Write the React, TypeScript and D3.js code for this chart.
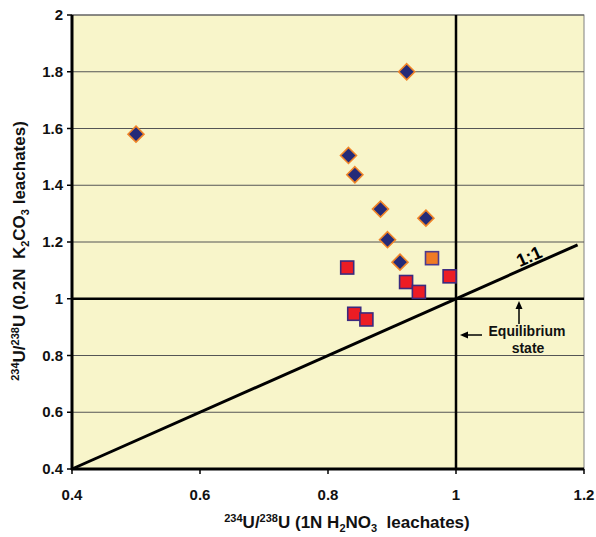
import React from "react";
import * as d3 from "d3";

const diamondX = [0.5, 0.923, 0.832, 0.842, 0.882, 0.953, 0.893, 0.9125];
const diamondY = [1.58, 1.8, 1.505, 1.437, 1.316, 1.284, 1.208, 1.129];
const squareX = [0.83, 0.99, 0.922, 0.942, 0.841, 0.86];
const squareY = [1.11, 1.079, 1.059, 1.024, 0.947, 0.927];
const orangeX = [0.9625];
const orangeY = [1.143];
const xTicks = [0.4, 0.6, 0.8, 1, 1.2];
const yTicks = [0.4, 0.6, 0.8, 1, 1.2, 1.4, 1.6, 1.8, 2];

const W = 596, H = 537;
const L = 72, R = 584, T = 15, B = 469;

export default function App() {
  const x = d3.scaleLinear().domain([0.4, 1.2]).range([L, R]);
  const y = d3.scaleLinear().domain([0.4, 2]).range([B, T]);
  const font = "'Liberation Sans', Arial, sans-serif";
  const ang = (Math.atan2(y(0.4) - y(1.2), x(1.2) - x(0.4)) * 180) / Math.PI;
  const lx = 1.12;
  const rad = (ang * Math.PI) / 180;
  const ox = x(lx) - 3 * Math.sin(rad);
  const oy = y(lx) - 3 * Math.cos(rad);
  return (
    <svg width={W} height={H} style={{ position: "absolute", left: 0, top: 0 }} fontFamily={font}>
      <rect x={0} y={0} width={W} height={H} fill="#fff" />
      <rect x={L} y={T} width={R - L} height={B - T} fill="#f8f5ca" stroke="#808080" strokeWidth={1} />
      {yTicks.map((t) => (
        <line key={"g" + t} x1={L} x2={R} y1={y(t)} y2={y(t)} stroke="#555" strokeWidth={1} />
      ))}
      {/* reference lines */}
      <line x1={x(1)} x2={x(1)} y1={T} y2={B} stroke="#000" strokeWidth={2.5} />
      <line x1={L} x2={R} y1={y(1)} y2={y(1)} stroke="#000" strokeWidth={2.5} />
      <line x1={x(0.4)} y1={y(0.4)} x2={x(1.19)} y2={y(1.19)} stroke="#000" strokeWidth={3} />
      {/* axes */}
      <line x1={L} x2={L} y1={T} y2={B + 1} stroke="#000" strokeWidth={3} />
      <line x1={L - 1} x2={R} y1={B} y2={B} stroke="#000" strokeWidth={3} />
      {yTicks.map((t) => (
        <g key={"yt" + t}>
          <line x1={L - 5} x2={L} y1={y(t)} y2={y(t)} stroke="#000" strokeWidth={1.5} />
          <text x={L - 9} y={y(t) + 5} textAnchor="end" fontSize={15} fontWeight="bold" fill="#111">
            {String(t)}
          </text>
        </g>
      ))}
      {xTicks.map((t) => (
        <g key={"xt" + t}>
          <line x1={x(t)} x2={x(t)} y1={B} y2={B + 5} stroke="#000" strokeWidth={1.5} />
          <text x={x(t)} y={B + 31} textAnchor="middle" fontSize={15} fontWeight="bold" fill="#111">
            {String(t)}
          </text>
        </g>
      ))}
      {/* markers */}
      {diamondX.map((v, i) => {
        const cx = x(v), cy = y(diamondY[i]);
        const r = 8;
        return (
          <path
            key={"d" + i}
            d={`M${cx},${cy - r}L${cx + r},${cy}L${cx},${cy + r}L${cx - r},${cy}Z`}
            fill="#242a78"
            stroke="#f08428"
            strokeWidth={1.6}
          />
        );
      })}
      {squareX.map((v, i) => (
        <rect key={"s" + i} x={x(v) - 6.5} y={y(squareY[i]) - 6.5} width={13} height={13}
          fill="#ec1c24" stroke="#3b2a7e" strokeWidth={1.6} />
      ))}
      {orangeX.map((v, i) => (
        <rect key={"o" + i} x={x(v) - 6.5} y={y(orangeY[i]) - 6.5} width={13} height={13}
          fill="#ef7a24" stroke="#4b3a8e" strokeWidth={1.6} />
      ))}
      {/* annotations */}
      <text x={0} y={0} transform={`translate(${ox},${oy}) rotate(${-ang})`} textAnchor="middle"
        fontSize={18} fontWeight="bold" fill="#000">1:1</text>
      <line x1={519} x2={519} y1={324} y2={306} stroke="#000" strokeWidth={1.5} />
      <path d="M519,301 L515.5,309 L522.5,309 Z" fill="#000" />
      <line x1={482} x2={465} y1={335} y2={335} stroke="#000" strokeWidth={1.5} />
      <path d="M460,335 L468,331.5 L468,338.5 Z" fill="#000" />
      <text x={527} y={336} textAnchor="middle" fontSize={14} fontWeight="bold" fill="#111">Equilibrium</text>
      <text x={528} y={353} textAnchor="middle" fontSize={14} fontWeight="bold" fill="#111">state</text>
      {/* axis titles */}
      <text x={347} y={528} textAnchor="middle" fontSize={17} fontWeight="bold" fill="#111" xmlSpace="preserve">
        <tspan fontSize={11} dy={-6}>234</tspan>
        <tspan dy={6}>U/</tspan>
        <tspan fontSize={11} dy={-6}>238</tspan>
        <tspan dy={6}>U (1N H</tspan>
        <tspan fontSize={11} dy={4}>2</tspan>
        <tspan dy={-4}>NO</tspan>
        <tspan fontSize={11} dy={4}>3</tspan>
        <tspan dy={-4}>{"  leachates)"}</tspan>
      </text>
      <text transform={`translate(25,${251}) rotate(-90)`} textAnchor="middle" fontSize={17} fontWeight="bold" fill="#111" xmlSpace="preserve">
        <tspan fontSize={11} dy={-6}>234</tspan>
        <tspan dy={6}>U/</tspan>
        <tspan fontSize={11} dy={-6}>238</tspan>
        <tspan dy={6}>{"U (0.2N  K"}</tspan>
        <tspan fontSize={11} dy={4}>2</tspan>
        <tspan dy={-4}>CO</tspan>
        <tspan fontSize={11} dy={4}>3</tspan>
        <tspan dy={-4}>{" leachates)"}</tspan>
      </text>
    </svg>
  );
}
